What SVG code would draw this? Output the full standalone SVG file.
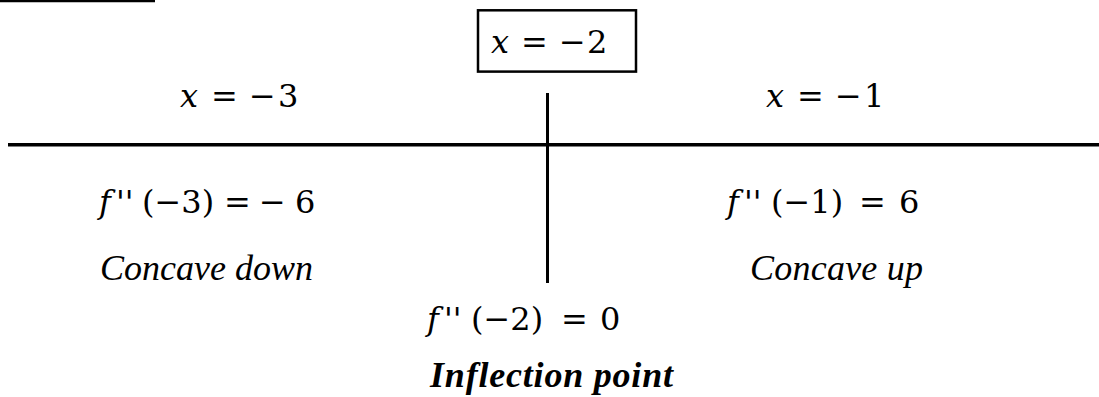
<svg xmlns="http://www.w3.org/2000/svg" width="1099" height="397" viewBox="0 0 1099 397">
<style>
.m{font-family:"DejaVu Serif","Liberation Serif",serif;font-size:32px;fill:#000}
.i{font-style:italic}
.t{font-family:"Liberation Serif","Times New Roman",serif;font-style:italic;font-size:36px;fill:#000}
.b{font-weight:bold}
.ln{stroke:#000;fill:none}
</style>
<rect width="1099" height="397" fill="#fff"/>
<g id="connectors">
<line class="ln" x1="0" y1="1" x2="155" y2="1" stroke-width="2.5"/>
<line class="ln" x1="8" y1="144.8" x2="1099" y2="144.8" stroke-width="3.5"/>
<line class="ln" x1="547.5" y1="93" x2="547.5" y2="283" stroke-width="3"/>
</g>
<g id="node-x-2">
<rect class="ln" x="478" y="10.3" width="158" height="61.3" stroke-width="2.5"/>
<text class="m" y="53"><tspan class="i" x="491">x</tspan><tspan x="521">=</tspan><tspan x="559">−</tspan><tspan x="587">2</tspan></text>
</g>
<g id="node-x-3">
<text class="m" y="107"><tspan class="i" x="180">x</tspan><tspan x="211">=</tspan><tspan x="249">−</tspan><tspan x="278">3</tspan></text>
</g>
<g id="node-x-1">
<text class="m" y="107"><tspan class="i" x="766">x</tspan><tspan x="797">=</tspan><tspan x="835">−</tspan><tspan x="864">1</tspan></text>
</g>
<g id="node-left">
<text class="m" y="213"><tspan class="i" x="99">f</tspan><tspan x="116">''</tspan><tspan x="142">(−3)</tspan><tspan x="224">=</tspan><tspan x="259">−</tspan><tspan x="295">6</tspan></text>
<text class="t" x="100" y="280" textLength="213" lengthAdjust="spacing">Concave down</text>
</g>
<g id="node-right">
<text class="m" y="213"><tspan class="i" x="727">f</tspan><tspan x="744">''</tspan><tspan x="771">(−1)</tspan><tspan x="859">=</tspan><tspan x="899">6</tspan></text>
<text class="t" x="750" y="280" textLength="173" lengthAdjust="spacing">Concave up</text>
</g>
<g id="node-center">
<text class="m" y="330"><tspan class="i" x="427">f</tspan><tspan x="444">''</tspan><tspan x="471">(−2)</tspan><tspan x="561">=</tspan><tspan x="600">0</tspan></text>
<text class="t b" x="430" y="387" textLength="243" lengthAdjust="spacing">Inflection point</text>
</g>
</svg>
